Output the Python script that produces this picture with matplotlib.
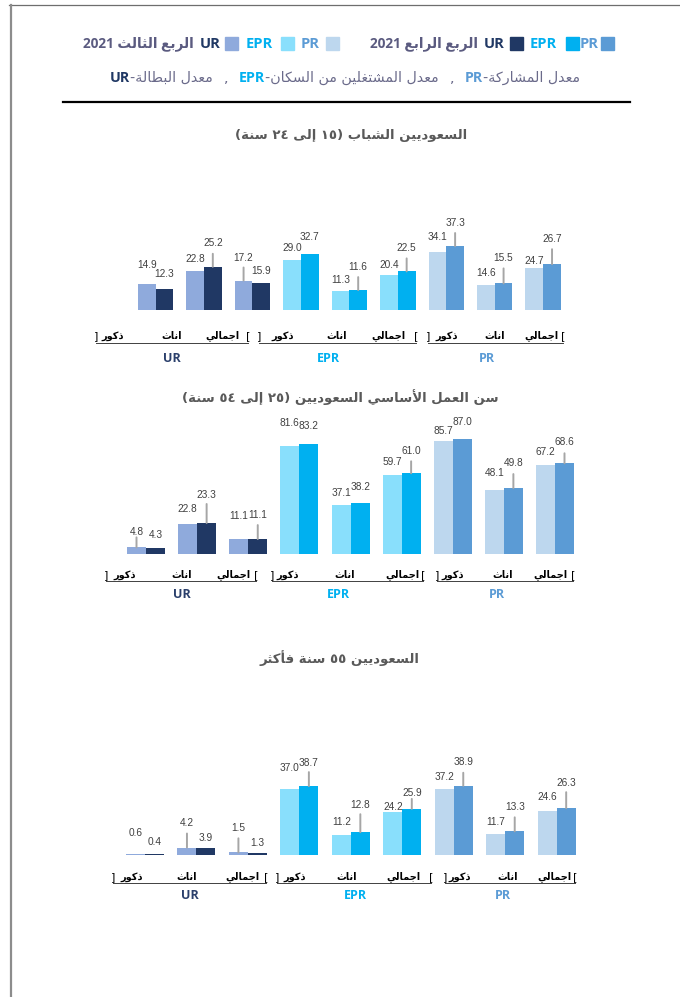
import numpy as np
import matplotlib
matplotlib.use("Agg")
import matplotlib.pyplot as plt
from matplotlib.patches import Rectangle
from matplotlib.lines import Line2D

# ---------------- data ----------------
categories = ['ذكور', 'اناث', 'اجمالي']
indicators = ['UR', 'EPR', 'PR']
titles = ['السعوديين الشباب (١٥ إلى ٢٤ سنة)',
          'سن العمل الأساسي السعوديين (٢٥ إلى ٥٤ سنة)',
          'السعوديين ٥٥ سنة فأكثر']
youth_q3 = [14.9, 22.8, 17.2, 29.0, 11.3, 20.4, 34.1, 14.6, 24.7]
youth_q4 = [12.3, 25.2, 15.9, 32.7, 11.6, 22.5, 37.3, 15.5, 26.7]
core_q3 = [4.8, 22.8, 11.1, 81.6, 37.1, 59.7, 85.7, 48.1, 67.2]
core_q4 = [4.3, 23.3, 11.1, 83.2, 38.2, 61.0, 87.0, 49.8, 68.6]
old_q3 = [0.6, 4.2, 1.5, 37.0, 11.2, 24.2, 37.2, 11.7, 24.6]
old_q4 = [0.4, 3.9, 1.3, 38.7, 12.8, 25.9, 38.9, 13.3, 26.3]
q3_label = 'الربع الثالث 2021'
q4_label = 'الربع الرابع 2021'
defs = [('UR', 'معدل البطالة-'), ('EPR', 'معدل المشتغلين من السكان-'), ('PR', 'معدل المشاركة-')]

# ---------------- styles ----------------
light = {'UR': '#8FAADC', 'EPR': '#89DFFC', 'PR': '#BDD7EE'}
dark = {'UR': '#203864', 'EPR': '#00B0F0', 'PR': '#5B9BD5'}
grp_col = {'UR': '#2A3F6B', 'EPR': '#00B0F0', 'PR': '#5B9BD5'}
W, H = 680, 997

# ---------------- minimal Arabic shaping ----------------
FORMS = {
    '\u0627': ('\uFE8D', '\uFE8E', None, None),
    '\u0623': ('\uFE83', '\uFE84', None, None),
    '\u0625': ('\uFE87', '\uFE88', None, None),
    '\u0628': ('\uFE8F', '\uFE90', '\uFE91', '\uFE92'),
    '\u0629': ('\uFE93', '\uFE94', None, None),
    '\u062A': ('\uFE95', '\uFE96', '\uFE97', '\uFE98'),
    '\u062B': ('\uFE99', '\uFE9A', '\uFE9B', '\uFE9C'),
    '\u062C': ('\uFE9D', '\uFE9E', '\uFE9F', '\uFEA0'),
    '\u062F': ('\uFEA9', '\uFEAA', None, None),
    '\u0630': ('\uFEAB', '\uFEAC', None, None),
    '\u0631': ('\uFEAD', '\uFEAE', None, None),
    '\u0633': ('\uFEB1', '\uFEB2', '\uFEB3', '\uFEB4'),
    '\u0634': ('\uFEB5', '\uFEB6', '\uFEB7', '\uFEB8'),
    '\u0637': ('\uFEC1', '\uFEC2', '\uFEC3', '\uFEC4'),
    '\u0639': ('\uFEC9', '\uFECA', '\uFECB', '\uFECC'),
    '\u063A': ('\uFECD', '\uFECE', '\uFECF', '\uFED0'),
    '\u0641': ('\uFED1', '\uFED2', '\uFED3', '\uFED4'),
    '\u0643': ('\uFED9', '\uFEDA', '\uFEDB', '\uFEDC'),
    '\u0644': ('\uFEDD', '\uFEDE', '\uFEDF', '\uFEE0'),
    '\u0645': ('\uFEE1', '\uFEE2', '\uFEE3', '\uFEE4'),
    '\u0646': ('\uFEE5', '\uFEE6', '\uFEE7', '\uFEE8'),
    '\u0648': ('\uFEED', '\uFEEE', None, None),
    '\u0649': ('\uFEEF', '\uFEF0', None, None),
    '\u064A': ('\uFEF1', '\uFEF2', '\uFEF3', '\uFEF4'),
}
LAM_ALEF = {'\u0627': ('\uFEFB', '\uFEFC'), '\u0623': ('\uFEF7', '\uFEF8'),
            '\u0625': ('\uFEF9', '\uFEFA')}
MIRROR = {'(': ')', ')': '(', '[': ']', ']': '['}


def shape(s):
    out, i, n, pj = [], 0, len(s), False
    while i < n:
        c = s[i]
        if c == '\u0644' and i + 1 < n and s[i + 1] in LAM_ALEF:
            iso, fin = LAM_ALEF[s[i + 1]]
            out.append(fin if pj else iso)
            pj = False
            i += 2
            continue
        if c in FORMS:
            f = FORMS[c]
            nxt = s[i + 1] if i + 1 < n else ''
            jn = f[2] is not None and nxt in FORMS
            if pj and jn:
                g = f[3]
            elif pj:
                g = f[1]
            elif jn:
                g = f[2]
            else:
                g = f[0]
            out.append(g)
            pj = jn
        else:
            out.append(c)
            pj = False
        i += 1
    return ''.join(out)


def is_ltr(c):
    return (c.isascii() and c.isalnum()) or ('\u0660' <= c <= '\u0669') or c == '.'


def vis(s):
    s = shape(s)
    runs = []
    for c in s:
        l = is_ltr(c)
        if runs and runs[-1][0] == l:
            runs[-1][1].append(c)
        else:
            runs.append([l, [c]])
    out = []
    for l, chars in reversed(runs):
        if l:
            out.append(''.join(chars))
        else:
            out.append(''.join(MIRROR.get(c, c) for c in reversed(chars)))
    return ''.join(out)


AR = ['DejaVu Sans']
LAT = ['Open Sans', 'DejaVu Sans']
NUM = ['Liberation Sans', 'DejaVu Sans']

fig = plt.figure(figsize=(W / 100, H / 100), dpi=100)
fig.patch.set_facecolor('white')


def fx(x):
    return x / W


def fy(y):
    return 1 - y / H


def ftext(x, y, s, **kw):
    return fig.text(fx(x), fy(y), s, **kw)


# frame lines
fig.add_artist(Line2D([fx(9), fx(680)], [fy(5.5), fy(5.5)], color='#6E6E6E', lw=0.9))
fig.add_artist(Line2D([fx(10.5), fx(10.5)], [fy(5.5), fy(997)], color='#8C8C8C', lw=1.6))
fig.add_artist(Line2D([fx(63), fx(630)], [fy(102.5), fy(102.5)], color='black', lw=1.6))

# header line 1
hy = 44
hdr = [
    (194, vis(q3_label), '#5B5B80', 'date'),
    (200, 'UR', dark['UR'], 'text'), (225, None, light['UR'], 'sq'),
    (246, 'EPR', dark['EPR'], 'text'), (281, None, light['EPR'], 'sq'),
    (301, 'PR', dark['PR'], 'text'), (326, None, light['PR'], 'sq'),
    (478, vis(q4_label), '#5B5B80', 'date'),
    (484, 'UR', dark['UR'], 'text'), (510, None, dark['UR'], 'sq'),
    (530, 'EPR', dark['EPR'], 'text'), (566, None, dark['EPR'], 'sq'),
    (580, 'PR', dark['PR'], 'text'), (601, None, dark['PR'], 'sq'),
]
for x, s, c, kind in hdr:
    if kind == 'sq':
        fig.add_artist(Rectangle((fx(x), fy(hy + 6.5)), 13 / W, 13 / H, color=c,
                                 transform=fig.transFigure))
    elif kind == 'date':
        ftext(x, hy, s, color=c, fontsize=9.8, fontweight='bold', family=LAT,
              ha='right', va='center')
    else:
        ftext(x, hy, s, color=c, fontsize=10.5, fontweight='bold', family=LAT,
              ha='left', va='center')

# header line 2 (sequential pieces, left to right, spread over 110..580)
fig.canvas.draw()
renderer = fig.canvas.get_renderer()
pieces = []
for k, (ab, phrase) in enumerate(defs):
    pieces.append((ab, dark[ab], 'bold', LAT, False))
    pieces.append((vis(phrase), '#6A6A8A', 'normal', AR, False))
    if k < len(defs) - 1:
        pieces.append((',', '#6A6A8A', 'normal', AR, True))
arts = []
for s, c, wgt, fam, sep in pieces:
    t = ftext(0, 78, s, color=c, fontsize=10.3, fontweight=wgt, family=fam,
              ha='left', va='center')
    arts.append((t, sep))
widths = [t.get_window_extent(renderer).width for t, _ in arts]
nsep = sum(1 for _, s in arts if s)
gap = (470 - sum(widths)) / (2 * nsep)
xcur = 110
for (t, sep), wd in zip(arts, widths):
    if sep:
        xcur += gap
    t.set_x(fx(xcur))
    xcur += wd
    if sep:
        xcur += gap

# ---------------- panels ----------------
panels = [
    dict(q3=youth_q3, q4=youth_q4, title=titles[0], ty=135, tx=351,
         x0=155.5, dx=48.46, base=310, ppu=1.715, top=150, bw=17.7,
         lift3=[19, 12, 23, 12, 11, 10, 15, 12, 7],
         lift4=[15, 24, 12, 17, 23, 23, 23, 25, 25],
         lead3=[0, 0, 13, 0, 0, 0, 0, 0, 0],
         lead4=[0, 13, 0, 0, 13, 13, 13, 15, 15],
         ly=336, uy=343, gy=358,
         br=[(96, 248), (259, 416), (428, 563)],
         lx=[113, 172, 222, 283, 337, 388, 447, 495, 541],
         gx=[172, 328, 487]),
    dict(q3=core_q3, q4=core_q4, title=titles[1], ty=397, tx=340,
         x0=146, dx=51.125, base=553.7, ppu=1.318, top=405, bw=19,
         lift3=[15, 15, 23, 23, 12, 13, 10, 17, 13],
         lift4=[13, 28, 24, 18, 16, 22, 17, 25, 21],
         lead3=[10, 0, 0, 0, 0, 0, 0, 0, 0],
         lead4=[0, 19, 14, 0, 0, 12, 0, 14, 10],
         ly=575, uy=581, gy=595,
         br=[(106, 256), (272, 423), (437, 573)],
         lx=[125, 182, 233, 288, 345, 402, 453, 503, 550],
         gx=[182, 338, 497]),
    dict(q3=old_q3, q4=old_q4, title=titles[2], ty=658, tx=339,
         x0=145, dx=51.46, base=855, ppu=1.78, top=690, bw=19,
         lift3=[21, 25, 24, 21, 13, 5, 12, 12, 14],
         lift4=[12, 10, 10, 23, 27, 16, 24, 24, 25],
         lead3=[0, 14, 14, 0, 0, 0, 0, 0, 0],
         lead4=[0, 0, 0, 14, 18, 10, 13, 14, 16],
         ly=877, uy=883, gy=895,
         br=[(113, 266), (277, 431), (445, 575)],
         lx=[132, 187, 242, 295, 347, 403, 460, 508, 554],
         gx=[190, 355, 503]),
]

PT = 0.72  # points per pixel at 100 dpi
for p in panels:
    left_px, right_px = 100, 600
    bottom_px = p['base'] + 8
    ax = fig.add_axes([fx(left_px), fy(bottom_px), (right_px - left_px) / W,
                       (bottom_px - p['top']) / H])
    ax.set_xlim((left_px - p['x0']) / p['dx'], (right_px - p['x0']) / p['dx'])
    ax.set_ylim(-(bottom_px - p['base']) / p['ppu'], (p['base'] - p['top']) / p['ppu'])
    ax.axis('off')
    w = p['bw'] / p['dx']
    idx = np.arange(len(p['q3']))
    cols3 = [light[indicators[i // 3]] for i in idx]
    cols4 = [dark[indicators[i // 3]] for i in idx]
    ax.bar(idx - w / 2, p['q3'], width=w, color=cols3, linewidth=0)
    ax.bar(idx + w / 2, p['q4'], width=w, color=cols4, linewidth=0)
    for vals, sgn, lifts, leads in [(p['q3'], -1, p['lift3'], p['lead3']),
                                    (p['q4'], 1, p['lift4'], p['lead4'])]:
        for i, v in enumerate(vals):
            xb = i + sgn * w / 2
            if leads[i] > 0:
                ax.annotate('', xy=(xb, v), xytext=(0, leads[i] * PT),
                            textcoords='offset points',
                            arrowprops=dict(arrowstyle='-', color='#A6A6A6', lw=1.4,
                                            shrinkA=0, shrinkB=0))
            ax.annotate(f'{v:.1f}', xy=(xb, v), xytext=(0, lifts[i] * PT),
                        textcoords='offset points', ha='center', va='center',
                        fontsize=7.3, color='#404040', family=NUM)
    # title
    ftext(p['tx'], p['ty'], vis(p['title']), ha='center', va='center',
          fontsize=9.5, fontweight='bold', color='#595959', family=AR)
    # category labels with bracket underline
    for g, (bl, brx) in enumerate(p['br']):
        fig.add_artist(Line2D([fx(bl), fx(brx)], [fy(p['uy']), fy(p['uy'])],
                              color='#404040', lw=0.7))
        ftext(bl, p['ly'], ']', ha='center', va='center', fontsize=8, color='black',
              family=AR)
        ftext(brx, p['ly'], '[', ha='center', va='center', fontsize=8, color='black',
              family=AR)
        for k in range(3):
            ftext(p['lx'][g * 3 + k], p['ly'], vis(categories[k]), ha='center',
                  va='center', fontsize=7, fontweight='bold', color='black', family=AR)
        ftext(p['gx'][g], p['gy'], indicators[g], ha='center', va='center',
              fontsize=9, fontweight='bold', color=grp_col[indicators[g]], family=LAT)

fig.savefig('out.png', dpi=100, facecolor='white')
